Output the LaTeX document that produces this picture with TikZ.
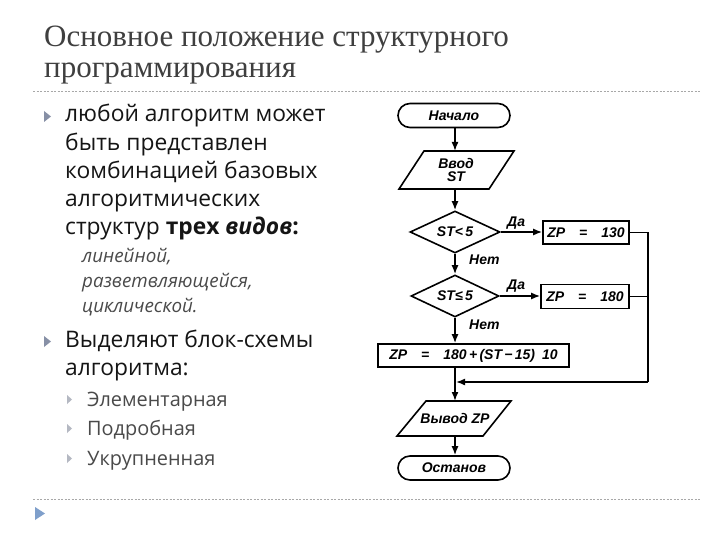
\documentclass[tikz,border=0pt]{standalone}
\usepackage{fontspec}
\setmainfont{Open Sans}
\newfontfamily\titlefont{Liberation Serif}
\newfontfamily\fcfont{Liberation Sans}
\usetikzlibrary{shapes.geometric,arrows.meta}
\definecolor{titlegray}{HTML}{3F3F3F}
\definecolor{bodytext}{HTML}{151515}
\definecolor{subgray}{HTML}{4A4A4A}
\definecolor{bulletgray}{HTML}{8790A6}
\definecolor{subbullet}{HTML}{B4B8C2}
\definecolor{bulletblue}{HTML}{7F9FCB}
\definecolor{rulegray}{HTML}{A8A8A8}
\begin{document}
\begin{tikzpicture}[x=1pt,y=-1pt,
  titletext/.style={anchor=base west,inner sep=0pt,text=titlegray,font=\titlefont\fontsize{31}{36}\selectfont},
  bodyline/.style={anchor=base west,inner sep=0pt,text=bodytext,font=\fontsize{22.8}{27}\selectfont},
  subline/.style={anchor=base west,inner sep=0pt,text=subgray,font=\itshape\fontsize{18.8}{22}\selectfont},
  sub2line/.style={anchor=base west,inner sep=0pt,text=subgray,font=\fontsize{19.9}{23}\selectfont},
  rulestyle/.style={rulegray,line width=0.8pt,dash pattern=on 2pt off 1.5pt},
  fcline/.style={line width=1.6pt,black},
  fctext/.style={inner sep=0pt,font=\fcfont\bfseries\itshape\fontsize{14}{15}\selectfont},
  fcarrow/.style={fcline,-{Latex[length=9pt,width=7pt]}},
  termbox/.style={fctext,draw,fcline,rounded corners=12pt,minimum width=112pt,minimum height=24pt},
  procbox/.style={fctext,draw,fcline,minimum height=23pt},
  decbox/.style={fctext,draw,fcline,shape=diamond,aspect=2,inner sep=0pt,minimum width=90pt,minimum height=42pt},
  lbl/.style={fctext,anchor=base west}
]
\useasboundingbox (0,0) rectangle (720,540);
\fill[white] (0,0) rectangle (720,540);

% title
\node[titletext] (t1) at (44,47) {Основное положение структурного};
\node[titletext] (t2) at (44,78) {программирования};
\draw[rulestyle] (33,91) -- (700,91);
\draw[rulestyle] (33,499) -- (700,499);
\fill[bulletblue] (35,507) -- (45,513.5) -- (35,520) -- cycle;

% left text
\fill[bulletgray] (44,111) -- (51,116.5) -- (44,122) -- cycle;
\node[bodyline] (l1) at (65,122) {любой алгоритм может};
\node[bodyline] (l2) at (65,151) {быть представлен};
\node[bodyline] (l3) at (65,179) {комбинацией базовых};
\node[bodyline] (l4) at (65,207) {алгоритмических};
\node[bodyline] (l5) at (65,235) {структур \textbf{трех \textit{видов}:}};
\node[subline] (s1) at (82,262) {линейной,};
\node[subline] (s2) at (82,287) {разветвляющейся,};
\node[subline] (s3) at (82,312) {циклической.};
\fill[bulletgray] (44,336) -- (51,341.5) -- (44,347) -- cycle;
\node[bodyline] (m1) at (65,347) {Выделяют блок-схемы};
\node[bodyline] (m2) at (65,375) {алгоритма:};
\fill[subbullet] (67,395) -- (72,399.5) -- (67,404) -- cycle;
\node[sub2line] (e1) at (87,406) {Элементарная};
\fill[subbullet] (67,424) -- (72,428.5) -- (67,433) -- cycle;
\node[sub2line] (e2) at (87,435) {Подробная};
\fill[subbullet] (67,454) -- (72,458.5) -- (67,463) -- cycle;
\node[sub2line] (e3) at (87,465) {Укрупненная};

% flowchart
\node[termbox] (start) at (454,115.5) {Начало};
\draw[fcline] (424,151) -- (514,151) -- (489,189) -- (399,189) -- cycle;
\node[fctext,align=center] (inp) at (456,170) {Ввод\\[-2pt]ST};
\coordinate (inpT) at (455,151);
\coordinate (inpB) at (455,189);
\node[decbox] (d1) at (455,232) {ST<\,5};
\node[procbox,minimum width=86pt] (b1) at (586,232.5) {ZP\quad=\quad130};
\node[decbox,minimum width=88pt] (d2) at (455,296) {ST≤\,5};
\node[procbox,minimum width=88pt,minimum height=24pt] (b2) at (585,296.5) {ZP\quad=\quad180};
\node[procbox,minimum width=191pt] (b3) at (473.5,355.5) {ZP\quad=\quad180\,+\,(ST\,−\,15)\enspace10};
\draw[fcline] (426,401) -- (511,401) -- (483,436) -- (397,436) -- cycle;
\node[fctext] (out) at (455,418.5) {Вывод ZP};
\coordinate (outT) at (455,401);
\coordinate (outB) at (455,436);
\node[termbox] (stop) at (454,468) {Останов};
\coordinate (rtop) at (648,232.5);
\coordinate (rmid) at (648,296.5);
\coordinate (rbot) at (648,382);
\coordinate (join) at (456,382);

\draw[fcarrow] (start.south -| inpT) -- (inpT);
\draw[fcarrow] (inpB) -- (d1.north);
\draw[fcarrow] (d1.east) -- (d1.east -| b1.west);
\draw[fcarrow] (d1.south) -- (d2.north);
\draw[fcarrow] (d2.east) -- (d2.east -| b2.west);
\draw[fcarrow] (d2.south) -- (d2.south |- b3.north);
\draw[fcarrow] (b3.south -| outT) -- (outT);
\draw[fcarrow] (outB) -- (stop.north -| outB);
\draw[fcline] (b1.east) -- (rtop) -- (rbot);
\draw[fcline] (b2.east) -- (rmid);
\draw[fcarrow] (rbot) -- (join);

\node[lbl] (da1) at (507,226) {Да};
\node[lbl] (da2) at (507,289) {Да};
\node[lbl] (net1) at (469,264) {Нет};
\node[lbl] (net2) at (469,329) {Нет};
\end{tikzpicture}
\end{document}
